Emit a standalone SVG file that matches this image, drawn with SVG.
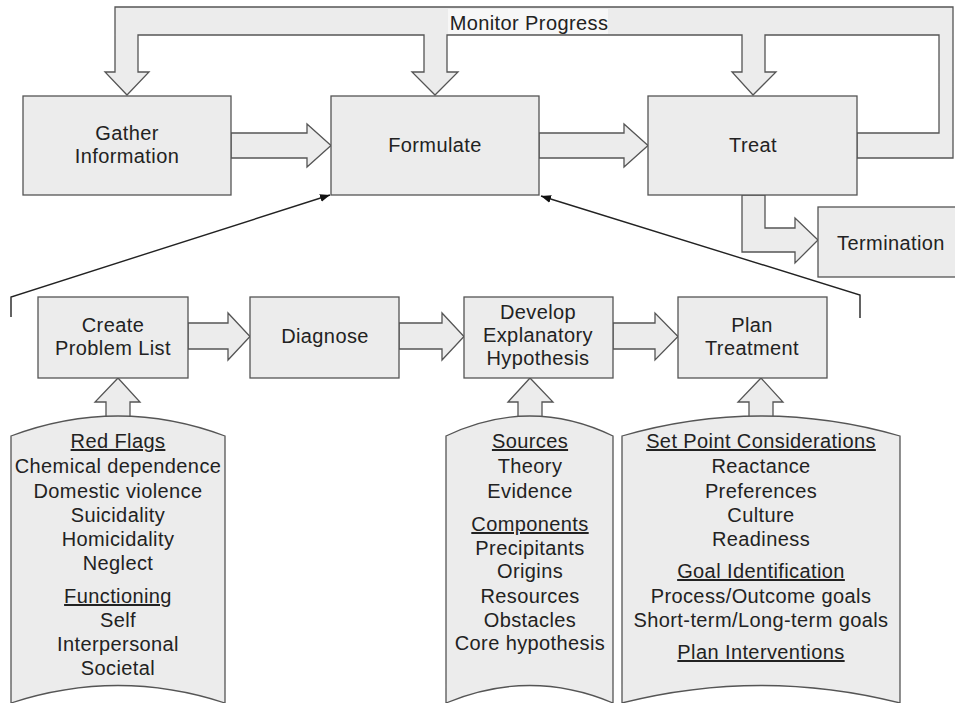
<svg xmlns="http://www.w3.org/2000/svg" width="955" height="703" viewBox="0 0 955 703">
<style>
.bx{fill:#ececec;stroke:#555;stroke-width:1.3}
.ar{fill:#ececec;stroke:#555;stroke-width:1.3;stroke-linejoin:miter}
.ln{fill:none;stroke:#222;stroke-width:1.4}
text{font-family:"Liberation Sans",Arial,sans-serif;font-size:20px;fill:#222;text-anchor:middle;letter-spacing:0.4px}
.u{text-decoration:underline}
</style>
<defs>
<marker id="ah" viewBox="0 0 10 8" refX="10" refY="4" markerWidth="10" markerHeight="8" markerUnits="userSpaceOnUse" orient="auto">
<path d="M0,0 L10,4 L0,8 Z" fill="#111"/>
</marker>
</defs>
<rect width="955" height="703" fill="#fff"/>
<g id="connectors">
<path class="ar" d="M857,133 L939,133 L939,35 L765,35 L765,72 L776,72 L753,95 L732,72 L742,72 L742,35 L447,35 L447,72 L458,72 L435,95 L412,72 L424,72 L424,35 L138,35 L138,72 L149,72 L127,95 L105,72 L115,72 L115,7 L953,7 L953,158 L857,158 Z"/>
<rect x="448" y="9" width="160" height="25" fill="#f7f7f7"/>
<text x="529" y="30">Monitor Progress</text>
<path class="ar" d="M231,133 L307,133 L307,124 L331,145.5 L307,167 L307,158 L231,158 Z"/>
<path class="ar" d="M539,133 L624,133 L624,124 L648,145.5 L624,167 L624,158 L539,158 Z"/>
<path class="ar" d="M742,195 L742,252 L795,252 L795,263 L818,240 L795,218 L795,228 L765,228 L765,195 Z"/>
<path class="ar" d="M188,323 L228,323 L228,313 L250,336.5 L228,360 L228,349 L188,349 Z"/>
<path class="ar" d="M399,323 L442,323 L442,313 L464,336.5 L442,360 L442,349 L399,349 Z"/>
<path class="ar" d="M613,323 L655,323 L655,313 L678,336.5 L655,360 L655,349 L613,349 Z"/>
<path class="ar" d="M106,425 L106,402 L95,402 L118,378 L140,402 L130,402 L130,425 Z"/>
<path class="ar" d="M518,425 L518,402 L508,402 L530,378 L553,402 L542,402 L542,425 Z"/>
<path class="ar" d="M749,425 L749,402 L738,402 L761,378 L783,402 L773,402 L773,425 Z"/>
<polyline class="ln" points="11,317 11,297 330,195" marker-end="url(#ah)"/>
<polyline class="ln" points="860,318 860,295 541,196" marker-end="url(#ah)"/>
</g>
<g id="gather"><rect class="bx" x="23" y="96" width="208" height="99"/><text x="127" y="140">Gather</text><text x="127" y="163">Information</text></g>
<g id="formulate"><rect class="bx" x="331" y="96" width="208" height="99"/><text x="435" y="152">Formulate</text></g>
<g id="treat"><rect class="bx" x="648" y="96" width="209" height="99"/><text x="753" y="152">Treat</text></g>
<g id="termination"><rect class="bx" x="818" y="207" width="145" height="70"/><text x="891" y="250">Termination</text></g>
<g id="create"><rect class="bx" x="38" y="297" width="150" height="81"/><text x="113" y="332">Create</text><text x="113" y="355">Problem List</text></g>
<g id="diagnose"><rect class="bx" x="250" y="297" width="149" height="81"/><text x="325" y="343">Diagnose</text></g>
<g id="develop"><rect class="bx" x="464" y="297" width="149" height="81"/><text x="538" y="319">Develop</text><text x="538" y="342">Explanatory</text><text x="538" y="365">Hypothesis</text></g>
<g id="plan"><rect class="bx" x="678" y="297" width="149" height="81"/><text x="752" y="332">Plan</text><text x="752" y="355">Treatment</text></g>
<g id="doc-redflags">
<path class="bx" d="M11,436 Q118,396 225,436 L225,703 Q118,668 11,703 Z"/>
<text x="118" y="448" class="u">Red Flags</text>
<text x="118" y="473">Chemical dependence</text>
<text x="118" y="498">Domestic violence</text>
<text x="118" y="522">Suicidality</text>
<text x="118" y="546">Homicidality</text>
<text x="118" y="570">Neglect</text>
<text x="118" y="603" class="u">Functioning</text>
<text x="118" y="627">Self</text>
<text x="118" y="651">Interpersonal</text>
<text x="118" y="675">Societal</text>
</g>
<g id="doc-sources">
<path class="bx" d="M446,436 Q530,396 613,436 L613,703 Q530,668 446,703 Z"/>
<text x="530" y="448" class="u">Sources</text>
<text x="530" y="473">Theory</text>
<text x="530" y="498">Evidence</text>
<text x="530" y="531" class="u">Components</text>
<text x="530" y="555">Precipitants</text>
<text x="530" y="578">Origins</text>
<text x="530" y="603">Resources</text>
<text x="530" y="627">Obstacles</text>
<text x="530" y="650">Core hypothesis</text>
</g>
<g id="doc-setpoint">
<path class="bx" d="M622,436 Q761,396 900,436 L900,703 Q761,668 622,703 Z"/>
<text x="761" y="448" class="u">Set Point Considerations</text>
<text x="761" y="473">Reactance</text>
<text x="761" y="498">Preferences</text>
<text x="761" y="522">Culture</text>
<text x="761" y="546">Readiness</text>
<text x="761" y="578" class="u">Goal Identification</text>
<text x="761" y="603">Process/Outcome goals</text>
<text x="761" y="627">Short-term/Long-term goals</text>
<text x="761" y="659" class="u">Plan Interventions</text>
</g>
</svg>
